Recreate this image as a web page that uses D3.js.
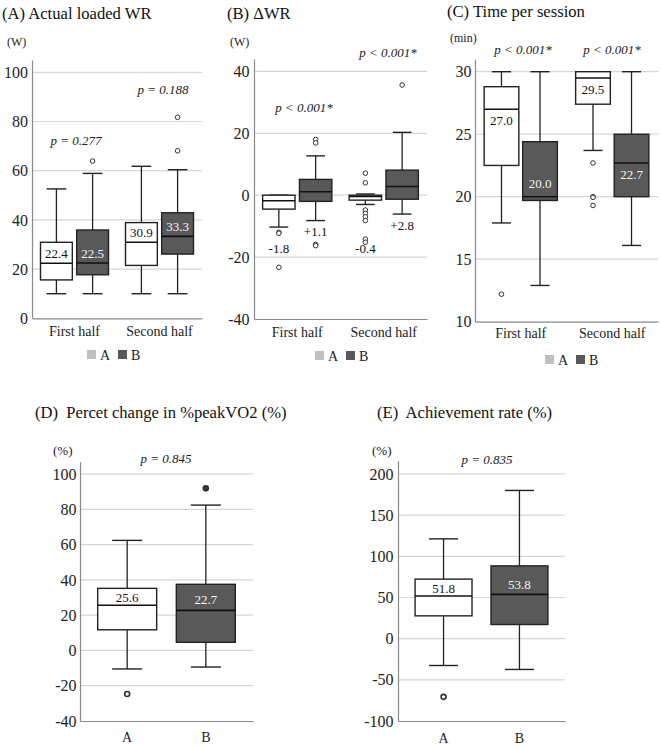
<!DOCTYPE html>
<html><head><meta charset="utf-8">
<script src="https://cdn.jsdelivr.net/npm/d3@7"></script>
<style>
body{margin:0;background:#fff}
svg{display:block}
svg text{font-family:"Liberation Serif","Tinos","Times New Roman","Times","Nimbus Roman","FreeSerif","Noto Serif","DejaVu Serif",serif !important}
</style>
</head><body>
<svg id="c" width="661" height="747"></svg>
<script>
// ---------------- DATA ----------------
const groups = ["A", "B"];
const halves = ["First half", "Second half"];

// stats per box: [lower whisker, Q1, median, Q3, upper whisker]
// (A) Actual loaded WR (W)
const wrTicks = [0, 20, 40, 60, 80, 100];
const wrStatsA = [[10, 15.6, 22.4, 30.9, 52.6], [10, 21.5, 30.9, 38.9, 61.8]];
const wrStatsB = [[10, 17.7, 22.5, 35.9, 58.9], [10, 26.1, 33.3, 42.9, 60.4]];
const wrOutA = [[], []];
const wrOutB = [[63.9], [68.1, 81.7]];
const wrLabA = ["22.4", "30.9"];
const wrLabB = ["22.5", "33.3"];
const wrP = ["p = 0.277", "p = 0.188"];

// (B) ΔWR (W)
const dwrTicks = [-40, -20, 0, 20, 40];
const dwrStatsA = [[-10.3, -4.5, -1.8, 0, 0], [-3.0, -1.6, -0.4, 0, 0.4]];
const dwrStatsB = [[-8.2, -2.0, 1.1, 5.1, 12.7], [-6.1, -1.3, 2.8, 8.1, 20.3]];
const dwrOutA = [[-12.0, -12.3, -23.3], [7.1, 4.0, -4.8, -5.9, -7.0, -8.2, -14.2, -15.2]];
const dwrOutB = [[18.0, 16.9, -15.9, -16.3], [35.6]];
const dwrLabA = ["-1.8", "-0.4"];
const dwrLabB = ["+1.1", "+2.8"];
const dwrP = ["p < 0.001*", "p < 0.001*"];

// (C) Time per session (min)
const timeTicks = [10, 15, 20, 25, 30];
const timeStatsA = [[17.9, 22.5, 27.0, 28.8, 30], [23.7, 27.4, 29.5, 30, 30]];
const timeStatsB = [[12.9, 19.7, 20.0, 24.4, 30], [16.1, 20.0, 22.7, 25.0, 30]];
const timeOutA = [[12.2], [22.7, 20.0, 19.95, 19.3]];
const timeOutB = [[], []];
const timeLabA = ["27.0", "29.5"];
const timeLabB = ["20.0", "22.7"];
const timeP = ["p < 0.001*", "p < 0.001*"];

// (D) Percent change in %peakVO2 (%)
const peakTicks = [-40, -20, 0, 20, 40, 60, 80, 100];
const peakStats = [[-10.5, 11.7, 25.6, 35.2, 62.4], [-9.4, 4.6, 22.7, 37.5, 82.4]];
const peakOut = [[-24.7], [91.9]];
const peakLab = ["25.6", "22.7"];
const peakP = "p = 0.845";

// (E) Achievement rate (%)
const achTicks = [-100, -50, 0, 50, 100, 150, 200];
const achStats = [[-32.6, 27.7, 51.8, 72.3, 121.2], [-37.4, 17.2, 53.8, 88.4, 180]];
const achOut = [[-70.7], []];
const achLab = ["51.8", "53.8"];
const achP = "p = 0.835";

// ---------------- STYLE ----------------
const FONT = '"Liberation Serif","Tinos","Times New Roman","Times","Nimbus Roman","FreeSerif","Noto Serif","DejaVu Serif",serif';
const FILL = {A: "#ffffff", B: "#595959"};
const LEGEND_FILL = {A: "#c0c0c0", B: "#595959"};
const LABEL_COLOR = {A: "#111", B: "#f4f4f4"};
const STROKE = "#222";
const GRID = "#d6d6d6";
const AXIS = "#8a8a8a";

const svg = d3.select("#c").attr("font-family", FONT);

function drawPanel(p) {
  const g = svg.append("g").attr("font-family", FONT);
  const y = d3.scaleLinear().domain(p.yDomain).range(p.yRange);
  const x = d3.scaleBand().domain(p.categories).range([p.x0, p.x1])
    .paddingInner(p.pi).paddingOuter(p.po);
  const sub = p.series
    ? d3.scaleBand().domain(p.series).range([0, x.bandwidth()]).paddingInner(p.spi)
    : null;

  g.append("text").attr("x", p.title.x).attr("y", p.title.y)
    .attr("font-size", 16.6).attr("fill", "#111").style("white-space", "pre").text(p.title.text);
  g.append("text").attr("x", p.unit.x).attr("y", p.unit.y)
    .attr("font-size", p.unit.fs).attr("fill", "#222").text(p.unit.text);

  g.selectAll("line.grid").data(p.ticks.filter(t => t !== p.yDomain[0]))
    .join("line").attr("class", "grid")
    .attr("x1", p.x0).attr("x2", p.x1)
    .attr("y1", d => y(d)).attr("y2", d => y(d))
    .attr("stroke", GRID).attr("stroke-width", 1.2);

  const ya = g.append("g").attr("transform", `translate(${p.x0},0)`)
    .call(d3.axisLeft(y).tickValues(p.ticks).tickSize(0).tickSizeOuter(0)
      .tickPadding(p.tickPad).tickFormat(d => String(d)));
  ya.attr("font-family", FONT);
  ya.select(".domain").attr("stroke", AXIS).attr("stroke-width", 1.2);
  ya.selectAll("text").attr("font-size", p.tickFs).attr("fill", "#222");

  const xa = g.append("g").attr("transform", `translate(0,${y(p.yDomain[0])})`)
    .call(d3.axisBottom(x).tickSize(0).tickSizeOuter(0).tickPadding(p.xPad));
  xa.attr("font-family", FONT);
  xa.select(".domain").attr("stroke", AXIS).attr("stroke-width", 1.2);
  xa.selectAll("text").attr("font-size", p.xFs).attr("fill", "#222");

  const items = [];
  p.categories.forEach((c, ci) => {
    if (p.series) {
      p.series.forEach((s, si) => {
        items.push({cat: c, ser: s, ci, si, stats: p.stats[si][ci], out: p.outliers[si][ci], lab: p.labels[si][ci],
          x: x(c) + sub(s), w: sub.bandwidth()});
      });
    } else {
      items.push({cat: c, ser: c, ci, si: ci, stats: p.stats[ci], out: p.outliers[ci], lab: p.labels[ci],
        x: x(c), w: x.bandwidth()});
    }
  });

  items.forEach(d => {
    const [lo, q1, med, q3, hi] = d.stats;
    const cx = d.x + d.w / 2;
    const cap = d.w * p.capFrac / 2;
    const bg = g.append("g");
    bg.append("line").attr("x1", cx).attr("x2", cx).attr("y1", y(q3)).attr("y2", y(hi))
      .attr("stroke", STROKE).attr("stroke-width", 1.3);
    bg.append("line").attr("x1", cx).attr("x2", cx).attr("y1", y(q1)).attr("y2", y(lo))
      .attr("stroke", STROKE).attr("stroke-width", 1.3);
    bg.append("line").attr("x1", cx - cap).attr("x2", cx + cap).attr("y1", y(hi)).attr("y2", y(hi))
      .attr("stroke", STROKE).attr("stroke-width", 1.4);
    bg.append("line").attr("x1", cx - cap).attr("x2", cx + cap).attr("y1", y(lo)).attr("y2", y(lo))
      .attr("stroke", STROKE).attr("stroke-width", 1.4);
    bg.append("rect").attr("x", d.x).attr("y", y(q3)).attr("width", d.w)
      .attr("height", Math.max(0.5, y(q1) - y(q3)))
      .attr("fill", FILL[d.ser]).attr("stroke", STROKE).attr("stroke-width", 1.4);
    bg.append("line").attr("x1", d.x).attr("x2", d.x + d.w).attr("y1", y(med)).attr("y2", y(med))
      .attr("stroke", "#111").attr("stroke-width", 1.6);
    bg.selectAll("circle").data(d.out).join("circle")
      .attr("cx", cx).attr("cy", v => y(v)).attr("r", p.outR)
      .attr("fill", p.outFill ? p.outFill(d) : "#fff")
      .attr("stroke", "#333").attr("stroke-width", p.outSW);
    const lp = p.labelPos(d, y, med);
    bg.append("text").attr("x", cx).attr("y", lp.y)
      .attr("text-anchor", "middle").attr("font-size", 13)
      .attr("fill", lp.color || LABEL_COLOR[d.ser]).text(d.lab);
  });

  p.pvals.forEach(pv => {
    g.append("text").attr("x", pv.x).attr("y", pv.y).attr("text-anchor", "middle")
      .attr("font-size", 13).attr("font-style", "italic").attr("fill", "#222").text(pv.text);
  });

  if (p.legend) {
    const lg = g.append("g").attr("transform", `translate(${p.legend.x},${p.legend.y})`);
    let off = 0;
    groups.forEach(s => {
      lg.append("rect").attr("x", off).attr("y", -5).attr("width", 9).attr("height", 9)
        .attr("fill", LEGEND_FILL[s]);
      lg.append("text").attr("x", off + 13).attr("y", 4.5).attr("font-size", 14)
        .attr("fill", "#222").text(s);
      off += 31;
    });
  }
}

drawPanel({
  title: {text: "(A) Actual loaded WR", x: 2, y: 19},
  unit: {text: "(W)", x: 7, y: 46, fs: 12},
  categories: halves, series: groups,
  stats: [wrStatsA, wrStatsB], outliers: [wrOutA, wrOutB], labels: [wrLabA, wrLabB],
  ticks: wrTicks, yDomain: [0, 105], yRange: [318.3, 60],
  x0: 32, x1: 202, pi: 0.2, po: 0.1, spi: 0.12, capFrac: 0.62,
  tickPad: 4, tickFs: 16, xPad: 7.8, xFs: 14,
  outR: 2.3, outSW: 1,
  labelPos: (d, y, m) => ({y: y(m) - 5}),
  pvals: [{text: wrP[0], x: 76, y: 145}, {text: wrP[1], x: 163, y: 94}],
  legend: {x: 87, y: 355}
});

const dwrLabelAt = [[-18.7, -18.7], [-13.2, -11.2]];
drawPanel({
  title: {text: "(B) \u0394WR", x: 227, y: 19},
  unit: {text: "(W)", x: 230, y: 46, fs: 12},
  categories: halves, series: groups,
  stats: [dwrStatsA, dwrStatsB], outliers: [dwrOutA, dwrOutB], labels: [dwrLabA, dwrLabB],
  ticks: dwrTicks, yDomain: [-40, 44], yRange: [319, 59],
  x0: 254, x1: 427, pi: 0.2, po: 0.1, spi: 0.12, capFrac: 0.58,
  tickPad: 4.5, tickFs: 16, xPad: 8, xFs: 14,
  outR: 2.3, outSW: 1,
  labelPos: (d, y, m) => ({y: y(dwrLabelAt[d.si][d.ci]), color: "#111"}),
  pvals: [{text: dwrP[0], x: 304, y: 112}, {text: dwrP[1], x: 388, y: 57}],
  legend: {x: 315, y: 356}
});

drawPanel({
  title: {text: "(C) Time per session", x: 447, y: 17},
  unit: {text: "(min)", x: 450, y: 42, fs: 12},
  categories: halves, series: groups,
  stats: [timeStatsA, timeStatsB], outliers: [timeOutA, timeOutB], labels: [timeLabA, timeLabB],
  ticks: timeTicks, yDomain: [10, 31], yRange: [321.7, 59.2],
  x0: 475, x1: 658, pi: 0.2, po: 0.1, spi: 0.1, capFrac: 0.55,
  tickPad: 3.5, tickFs: 16, xPad: 6.5, xFs: 14,
  outR: 2.3, outSW: 1,
  labelPos: (d, y, m) => (d.ser === "B" && d.ci === 0) ? {y: y(m) - 9} : {y: y(m) + 16},
  pvals: [{text: timeP[0], x: 523, y: 54}, {text: timeP[1], x: 612, y: 54}],
  legend: {x: 545, y: 360}
});

drawPanel({
  title: {text: "(D)  Percet change in %peakVO2 (%)", x: 35, y: 418},
  unit: {text: "(%)", x: 53, y: 455, fs: 13},
  categories: groups, series: null,
  stats: peakStats, outliers: peakOut, labels: peakLab,
  ticks: peakTicks, yDomain: [-40, 107], yRange: [721, 461.7],
  x0: 80, x1: 253, pi: 0.25, po: 0.225, capFrac: 0.51,
  tickPad: 3.5, tickFs: 16, xPad: 11, xFs: 14,
  outR: 2.5, outSW: 1.6,
  outFill: d => d.ser === "B" ? "#333" : "#fff",
  labelPos: (d, y, m) => ({y: y(m) - (d.ser === "A" ? 3.5 : 6)}),
  pvals: [{text: peakP, x: 166, y: 463}],
  legend: null
});

drawPanel({
  title: {text: "(E)  Achievement rate (%)", x: 377, y: 418},
  unit: {text: "(%)", x: 372, y: 455, fs: 13},
  categories: groups, series: null,
  stats: achStats, outliers: achOut, labels: achLab,
  ticks: achTicks, yDomain: [-100, 216], yRange: [721, 460.8],
  x0: 398, x1: 565, pi: 0.25, po: 0.225, capFrac: 0.51,
  tickPad: 4.5, tickFs: 16, xPad: 12, xFs: 14,
  outR: 2.5, outSW: 1.6,
  labelPos: (d, y, m) => ({y: y(m) - (d.ser === "A" ? 3.5 : 5.5)}),
  pvals: [{text: achP, x: 487, y: 464}],
  legend: null
});
</script>
</body></html>
